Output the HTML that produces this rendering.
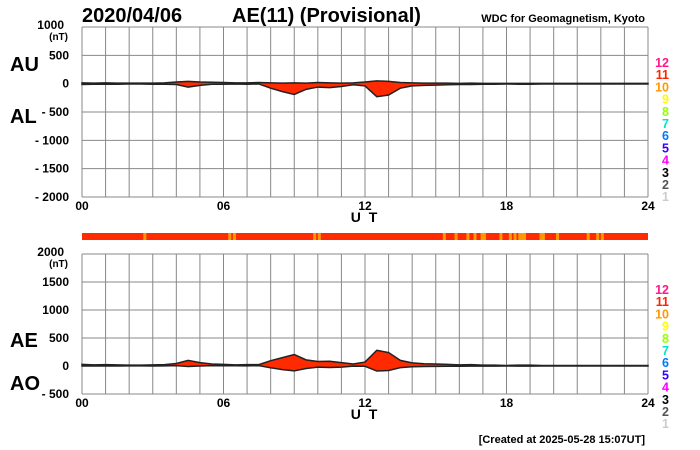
<!DOCTYPE html>
<html><head><meta charset="utf-8"><style>
body{margin:0;background:#fff}
svg{display:block;font-family:"Liberation Sans",sans-serif;font-weight:bold}
</style></head><body>
<svg id="c" width="700" height="450" viewBox="0 0 700 450">
<text x="82" y="22" font-size="20">2020/04/06</text>
<text x="232" y="22" font-size="20">AE(11) (Provisional)</text>
<text x="645" y="22" font-size="11" text-anchor="end">WDC for Geomagnetism, Kyoto</text>
<text x="10" y="71" font-size="20">AU</text>
<text x="10" y="123" font-size="20">AL</text>
<text x="10" y="347" font-size="20">AE</text>
<text x="10" y="390" font-size="20">AO</text>
<text x="645" y="443" font-size="11" text-anchor="end">[Created at 2025-05-28 15:07UT]</text>
<g id="g"></g>
</svg>
<script>
const hours=[0,0.5,1,1.5,2,2.5,3,3.5,4,4.5,5,5.5,6,6.5,7,7.5,8,8.5,9,9.5,10,10.5,11,11.5,12,12.5,13,13.5,14,14.5,15,15.5,16,16.5,17,17.5,18,18.5,19,19.5,20,20.5,21,21.5,22,22.5,23,23.5,24];
const auValues=[15,10,15,10,10,10,10,15,30,40,30,25,20,15,15,20,15,10,15,10,20,15,10,15,30,50,40,20,15,10,10,10,5,10,5,5,5,5,5,5,5,5,5,5,5,5,5,5,5];
const alValues=[-15,-10,-10,-10,-5,-5,-10,-10,-15,-60,-30,-10,-10,-5,-10,-5,-80,-140,-190,-100,-60,-70,-50,-20,-40,-230,-200,-80,-40,-30,-25,-20,-15,-15,-10,-10,-5,-10,-10,-5,-5,-5,-5,-5,-5,-5,-5,-5,-5];
const topTicks=[1000,500,0,-500,-1000,-1500,-2000];
const botTicks=[2000,1500,1000,500,0,-500];
const xTicks=[0,6,12,18,24];
const xTickLabels=["00","06","12","18","24"];
const stripeHours=[2.6,6.2,6.4,9.8,10.0,15.3,15.8,16.3,16.6,16.9,17.0,17.7,18.1,18.3,18.5,18.6,18.7,19.4,19.5,20.1,21.4,21.8,22.0];
const levelLabels=["12","11","10","9","8","7","6","5","4","3","2","1"];
const levelColors=["#ff1a8c","#ff2200","#ff9900","#ffff00","#99ff00","#00e6cc","#0077ff","#3300ff","#ff00ff","#000000","#555555","#cccccc"];

const NS="http://www.w3.org/2000/svg";
const g=document.getElementById('g');
const X0=82,X1=648;
const x=h=>X0+(X1-X0)*h/24;
function mk(t,a,p){const e=document.createElementNS(NS,t);for(const k in a)e.setAttribute(k,a[k]);(p||g).appendChild(e);return e;}
function panel(name,top,bot,vmax,vmin,ticks){
  const y=v=>top+(bot-top)*(vmax-v)/(vmax-vmin);
  for(let h=0;h<=24;h++){const l=mk('line',{x1:x(h),x2:x(h),y1:top,y2:bot,stroke:'#888','stroke-width':1});
    
    }
  ticks.forEach((v,i)=>{const l=mk('line',{x1:X0,x2:X1,y1:y(v),y2:y(v),stroke:'#888','stroke-width':1});
    
    
    const t=mk('text',{x:i==0?64:69,y:y(v)+(i==0?2:4),'font-size':12,'text-anchor':'end'});t.textContent=(v<0?'- '+(-v):v);
    
    });
  const u=mk('text',{x:68,y:y(ticks[0])+13,'font-size':10,'text-anchor':'end'});u.textContent='(nT)';
  
  
  xTicks.forEach((h,i)=>{const t=mk('text',{x:x(h),y:bot+13,'font-size':12,'text-anchor':'middle'});t.textContent=xTickLabels[i];
    
    });
  const ut=mk('text',{x:x(12),y:bot+25,'font-size':14,'text-anchor':'middle','letter-spacing':'2'});ut.textContent='U T';
  
  
  levelLabels.forEach((s,i)=>{const t=mk('text',{x:669,y:top+40+i*12.2,'font-size':12.5,'text-anchor':'end',fill:levelColors[i]});t.textContent=s;
    
    });
  return y;
}
function band(name,y,a,b){
  let d='M'+hours.map((h,i)=>x(h)+','+y(a[i])).join('L');
  for(let i=hours.length-1;i>=0;i--)d+='L'+x(hours[i])+','+y(b[i]);
  const p=mk('path',{d:d+'Z',fill:'#ff2a00',stroke:'#222','stroke-width':1.5});
  
  
}
const yt=panel('top-panel',27,197,1000,-2000,topTicks);
band('au-al-area',yt,auValues,alValues);
const yb=panel('bottom-panel',254,394,2000,-500,botTicks);
const ae=auValues.map((v,i)=>v-alValues[i]);
const ao=auValues.map((v,i)=>(v+alValues[i])/2);
band('ae-ao-area',yb,ae,ao);
const bar=mk('rect',{x:X0,y:233,width:X1-X0,height:7,fill:'#ff2a00'});


stripeHours.forEach(h=>{const r=mk('rect',{x:x(h),y:233,width:3,height:7,fill:'#ff9900'});
  
  });
</script>
</body></html>
